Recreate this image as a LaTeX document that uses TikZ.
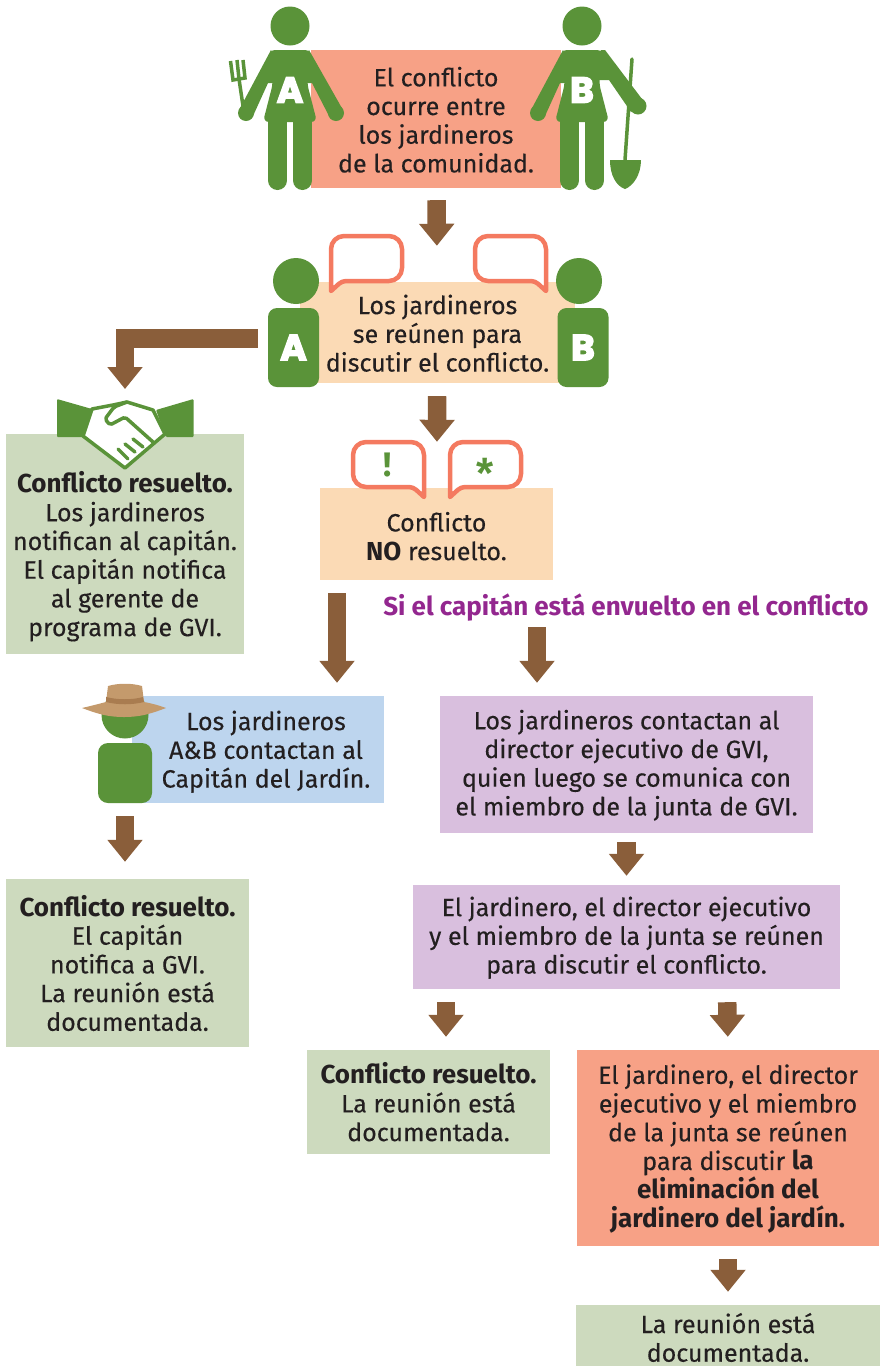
\documentclass[tikz,border=0pt]{standalone}
\usepackage{fontspec}
\setmainfont{Fira Sans}[UprightFeatures={FakeBold=0.3}]
\newfontfamily\letterfont[FakeBold=4]{Poppins}
\newfontfamily\starfont{Liberation Sans}
\usetikzlibrary{arrows.meta}

\definecolor{leaf}{HTML}{5A9339}
\definecolor{salmon}{HTML}{F7A186}
\definecolor{peach}{HTML}{FBDAB5}
\definecolor{sage}{HTML}{CDDABE}
\definecolor{sky}{HTML}{BDD5EE}
\definecolor{lilac}{HTML}{D9BFDE}
\definecolor{soil}{HTML}{8A5E3A}
\definecolor{coral}{HTML}{F47A60}
\definecolor{ink}{HTML}{231F20}
\definecolor{plum}{HTML}{93278F}
\definecolor{straw}{HTML}{C49A6C}
\definecolor{strawband}{HTML}{A97C50}

\newcommand{\boldtext}[1]{{\bfseries\fontsize{26}{28.7}\selectfont #1}}

\tikzset{
    box/.style={inner sep=0pt, align=center, text=ink, font=\fontsize{25}{28.7}\selectfont},
    flow/.style={soil, line width=18.5, -{Triangle[width=34pt,length=22pt]}},
    letter/.style={text=white, inner sep=0pt, font=\letterfont\bfseries\fontsize{36}{36}\selectfont},
    torso/.style={letter, fill=leaf, rounded corners=9},
    speech/.pic={
        \draw[coral, fill=white, line width=4.5, line join=round, line cap=round]
            (0,0) [rounded corners=13] -- (0,-55) -- (71,-55) -- (71,-10)
            [rounded corners=4] -- (11,-10) [sharp corners] -- cycle;
    },
    gardener/.pic={
        \fill[leaf] (0,0) circle (19.5);
        % left arm
        \fill[leaf] (-44,87) circle (8);
        \fill[leaf] (-19,24) -- (-51,84) -- (-37,90) -- (-22,57) -- (0,57) -- cycle;
        % torso and legs
        \fill[leaf, rounded corners=6] (-21,24) -- (21,24) -- (17,57) -- (27,96) -- (-27,96) -- (-17,57) -- cycle;
        \foreach \s in {-12.5,12.5}
            \draw[leaf, line width=19, line cap=round] (\s,90) -- (\s,154.5);
    },
}

\begin{document}
\begin{tikzpicture}[x=1pt, y=-1pt]
    \useasboundingbox (0,0) rectangle (882,1366);

    % Boxes
    \node[box, fill=salmon, minimum width=250, minimum height=138] (occur) at (436,119) {\rule{0pt}{21pt}El conflicto\\ocurre entre\\los jardineros\\de la comunidad.};
    \node[box, fill=peach, minimum width=275, minimum height=101] (meet) at (437.5,332.5) {\rule{0pt}{21pt}Los jardineros\\se reúnen para\\discutir el conflicto.};
    \node[box, fill=peach, minimum width=233, minimum height=92] (open) at (436.5,534) {\rule{0pt}{24pt}Conflicto\\\boldtext{NO} resuelto.};
    \node[box, fill=sage, minimum width=238, minimum height=220] (solved) at (125,544) {\rule{0pt}{46pt}\boldtext{Conflicto resuelto.}\\Los jardineros\\notifican al capitán.\\El capitán notifica\\al gerente de\\programa de GVI.};
    \node[box, fill=sky, minimum width=252, minimum height=107] (captain) at (258,749.5) {\rule{0pt}{24pt}\hspace{16pt}Los jardineros\\\hspace{16pt}A\&B contactan al\\\hspace{16pt}Capitán del Jardín.};
    \node[box, fill=sage, minimum width=243, minimum height=168] (notify) at (127.5,963) {\rule{0pt}{21pt}\boldtext{Conflicto resuelto.}\\El capitán\\notifica a GVI.\\La reunión está\\documentada.};
    \node[box, text=plum, font=\bfseries\fontsize{26}{28.7}\selectfont] (ifcap) at (626,607.5) {Si el capitán está envuelto en el conflicto};
    \node[box, fill=lilac, minimum width=373, minimum height=137] (director) at (626.5,764.5) {\rule{0pt}{21pt}Los jardineros contactan al\\director ejecutivo de GVI,\\quien luego se comunica con\\el miembro de la junta de GVI.};
    \node[box, fill=lilac, minimum width=427, minimum height=104] (board) at (626.5,937) {\rule{0pt}{21pt}El jardinero, el director ejecutivo\\y el miembro de la junta se reúnen\\para discutir el conflicto.};
    \node[box, fill=sage, minimum width=243, minimum height=104] (record) at (428.5,1102) {\rule{0pt}{21pt}\boldtext{Conflicto resuelto.}\\La reunión está\\documentada.};
    \node[box, fill=salmon, minimum width=302, minimum height=196] (remove) at (728,1148) {\rule{0pt}{21pt}El jardinero, el director\\ejecutivo y el miembro\\de la junta se reúnen\\para discutir \boldtext{la}\\\boldtext{eliminación del}\\\boldtext{jardinero del jardín.}};
    \node[box, fill=sage, minimum width=304, minimum height=61] (final) at (728,1335.5) {\rule{0pt}{24pt}La reunión está\\documentada.};

    % Arrows
    \draw[flow, shorten <=12, shorten >=36] (occur) -- (meet);
    \draw[flow, shorten <=13, shorten >=46] (meet) -- (open);
    \draw[flow, shorten <=13, shorten >=13] ([xshift=-99.5]open.south) -- ([xshift=79]captain.north);
    \draw[flow, shorten <=6, shorten >=13] ([xshift=-89]ifcap.south) -- ([xshift=-89.5]director.north);
    \draw[flow, shorten <=13, shorten >=17] ([xshift=-133]captain.south) -- ([xshift=-2.5]notify.north);
    \draw[flow, shorten <=9, shorten >=9] (director) -- (board);
    \draw[flow, shorten <=13, shorten >=13] ([xshift=-180.5]board.south) -- ([xshift=17.5]record.north);
    \draw[flow, shorten <=13, shorten >=13] ([xshift=100.5]board.south) -- (remove.north);
    \draw[flow, shorten <=13, shorten >=13] (remove) -- (final);

    % Gardeners A and B over the first box
    \pic at (290,26) {gardener};
    \pic at (582,26) {gardener};
    \fill[leaf] (336,113) circle (8);
    \fill[leaf] (309,50) -- (343,110) -- (329,116) -- (312,83) -- (290,83) -- cycle;
    \fill[leaf] (638,106) circle (8.5);
    \fill[leaf] (601,50) -- (605,50) -- (645,103) -- (631,112) -- (609,80) -- (582,80) -- cycle;
    \node[letter] (letterA) at (290,90) {A};
    \node[letter] (letterB) at (582,90) {B};

    % Fork
    \draw[leaf, line width=3.5] (230.5,61) -- (233,80) -- (245,78) -- (243,60);
    \draw[leaf, line width=3.5] (237,60) -- (239,79);
    \draw[leaf, line width=3.5] (239,79) -- (243,106);

    % Shovel
    \draw[leaf, line width=3.5, line cap=round] (632,59) -- (625,160);
    \fill[leaf] (610,160) -- (641,160) .. controls (641,175) and (633,186) .. (625,189) .. controls (616,186) and (610,175) .. (610,160);

    % Gardeners at the meeting
    \fill[leaf] (296,281) circle (23);
    \fill[leaf] (579,281) circle (23);
    \node[torso, minimum width=51, minimum height=79] (bodyA) at (293.5,347.5) {A};
    \node[torso, minimum width=51, minimum height=79] (bodyB) at (583,347.5) {B};
    \pic at (331,291) {speech};
    \pic[xscale=-1] at (546,291) {speech};

    % Elbow arrow to the handshake
    \coordinate (shake) at (125,389);
    \draw[flow] ([xshift=-10,yshift=9]bodyA.west) -| (shake);

    % Bubbles of the open conflict
    \pic[xscale=-1] at (424,497) {speech};
    \pic at (450,497) {speech};
    \node[text=leaf, inner sep=0pt, font=\bfseries\fontsize{34}{34}\selectfont] (mark) at (388,465) {!};
    \node[text=leaf, inner sep=0pt, font=\starfont\bfseries\fontsize{44}{44}\selectfont] (star) at (485,473) {*};

    % Handshake
    \fill[leaf, rounded corners=1] (57,399) -- (92,409) -- (83,437) -- (57,437) -- cycle;
    \fill[leaf, rounded corners=1] (193.5,399) -- (156,410) -- (166,437) -- (193.5,437) -- cycle;
    \draw[leaf, fill=white, line width=3.5, line join=round] (92,409) -- (113,405) -- (127,402) -- (153,410) -- (165,434) -- (152,445) -- (125,468) -- (83,436) -- cycle;
    \draw[leaf, line width=3.5, line join=round, line cap=round, rounded corners=2] (127,402) -- (114,407) -- (105,419) -- (110,425) -- (125,417) -- (153,442);
    \draw[leaf, line width=3.5, line cap=round] (133,439) -- (143,447);
    \draw[leaf, line width=3.5, line cap=round] (125,444) -- (135,452);
    \draw[leaf, line width=3.5, line cap=round] (118,449) -- (128,459);

    % Captain with the hat
    \fill[leaf] (125,715) circle (23.5);
    \node[torso, rounded corners=10, minimum width=54, minimum height=60] (bodyC) at (125,773) {};
    \fill[straw] (82,708) .. controls (95,705) and (102,703) .. (106,702) -- (108,686) .. controls (118,683) and (132,683) .. (142,686) -- (144,702) .. controls (150,703) and (158,705) .. (166,708) .. controls (150,714) and (140,717) .. (124,717) .. controls (108,717) and (98,714) .. (82,708) -- cycle;
    \fill[strawband] (106,697) .. controls (118,700) and (132,700) .. (143,697) -- (144,702) .. controls (132,705) and (118,705) .. (106,702) -- cycle;
\end{tikzpicture}
\end{document}
